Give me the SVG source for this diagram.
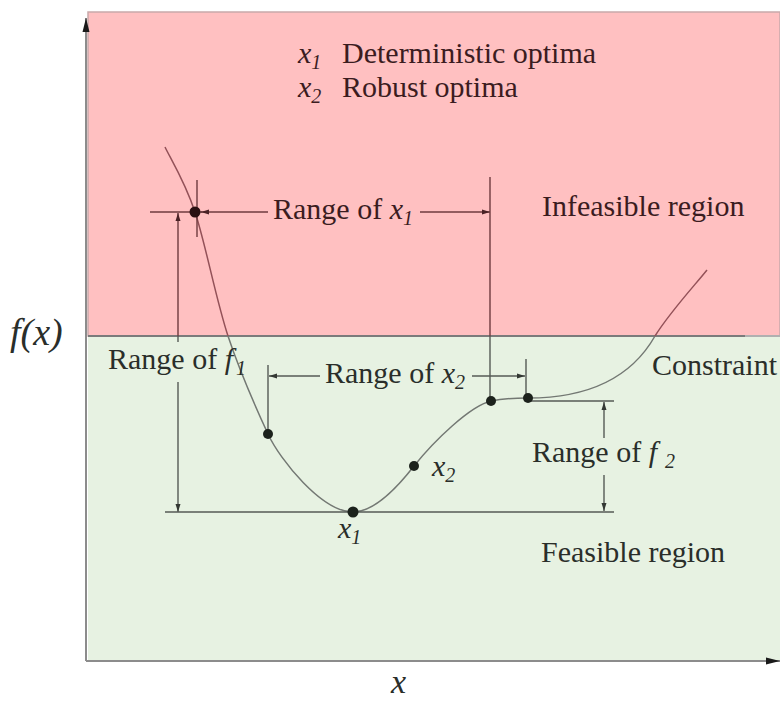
<svg xmlns="http://www.w3.org/2000/svg" width="780" height="702" viewBox="0 0 780 702">
<defs>
<style>
text{font-family:'Liberation Serif','Times New Roman',Times,Tinos,'Noto Serif','DejaVu Serif',FreeSerif,serif;font-size:30px}
.tp{fill:#3b1c1f}
.tg{fill:#2a2e2a}
.it{font-style:italic}
.sub{font-size:20px;font-style:italic}
.ln{fill:none;stroke:url(#lg);stroke-width:1.4}
.cv{fill:none;stroke:url(#cg);stroke-width:1.5}
.dotp{fill:#2a1012}
.dotg{fill:#1c221c}
</style>
<linearGradient id="lg" gradientUnits="userSpaceOnUse" x1="0" y1="0" x2="0" y2="702">
<stop offset="0.4786" stop-color="#6e3a3e"/><stop offset="0.4786" stop-color="#555a55"/>
</linearGradient>
<linearGradient id="cg" gradientUnits="userSpaceOnUse" x1="0" y1="0" x2="0" y2="702">
<stop offset="0.4786" stop-color="#935158"/><stop offset="0.4786" stop-color="#737873"/>
</linearGradient>
<marker id="ap" markerUnits="userSpaceOnUse" markerWidth="10" markerHeight="8" refX="8" refY="3" orient="auto">
<path d="M0,0.5 L8,3 L0,5.5 z" fill="#4a2226"/>
</marker>
<marker id="ag" markerUnits="userSpaceOnUse" markerWidth="10" markerHeight="8" refX="8" refY="3" orient="auto">
<path d="M0,0.5 L8,3 L0,5.5 z" fill="#333833"/>
</marker>
<marker id="ax" markerUnits="userSpaceOnUse" markerWidth="16" markerHeight="10" refX="14" refY="4" orient="auto">
<path d="M0,0.5 L14,4 L0,7.5 z" fill="#1a1a1a"/>
</marker>
</defs>
<rect width="780" height="702" fill="#ffffff"/>
<g id="infeasible-region">
<rect x="88" y="12" width="692" height="324" fill="#ffc0c1" stroke="#c9a9aa" stroke-width="1.5"/>
</g>
<g id="feasible-region">
<rect x="88" y="336" width="692" height="325" fill="#e7f2e2"/>
</g>
<g id="constraint-line">
<line x1="88" y1="336" x2="745" y2="336" stroke="#7b7b7b" stroke-width="2"/>
<line x1="745" y1="336" x2="780" y2="336" stroke="#b0b0b0" stroke-width="2"/>
</g>
<g id="axes">
<line x1="86" y1="661" x2="86" y2="18" stroke="#8c8c8c" stroke-width="2" marker-end="url(#ax)"/>
<line x1="86" y1="661" x2="780" y2="661" stroke="#8c8c8c" stroke-width="2" marker-end="url(#ax)"/>
</g>
<g id="curve">
<path class="cv" d="M165,147 C170,157.8 184.5,180.5 195,212 C205.5,243.5 215.8,299 228,336 C240.2,373 256,408 268,434 C280,460 322,512 353,512 C375,512 400,484 414,466 C434,441 470,406 491,401 C503,398.5 516,398 528,398 C585,398 630,380 655,336 C670,312 695,285 707,270"/>
</g>
<g id="connectors">
<line class="ln" x1="150" y1="212" x2="202" y2="212"/>
<line class="ln" x1="268" y1="212" x2="201" y2="212" marker-end="url(#ap)"/>
<line class="ln" x1="197" y1="180" x2="197" y2="237"/>
<line class="ln" x1="420" y1="212" x2="490" y2="212" marker-end="url(#ap)"/>
<line class="ln" x1="490" y1="177" x2="490" y2="401"/>
<line class="ln" x1="178" y1="342" x2="178" y2="213" marker-end="url(#ap)"/>
<line class="ln" x1="178" y1="382" x2="178" y2="512" marker-end="url(#ag)"/>
<line class="ln" x1="268" y1="365" x2="268" y2="434"/>
<line class="ln" x1="320" y1="376" x2="269" y2="376" marker-end="url(#ag)"/>
<line class="ln" x1="472" y1="376" x2="525" y2="376" marker-end="url(#ag)"/>
<line class="ln" x1="526" y1="359" x2="526" y2="398"/>
<line class="ln" x1="530" y1="401" x2="614" y2="401"/>
<line class="ln" x1="604" y1="438" x2="604" y2="402" marker-end="url(#ag)"/>
<line class="ln" x1="604" y1="475" x2="604" y2="511" marker-end="url(#ag)"/>
<line class="ln" x1="165" y1="512" x2="614" y2="512"/>
</g>
<g id="points">
<circle class="dotp" cx="195" cy="212" r="5.5"/>
<circle class="dotg" cx="268" cy="434" r="5"/>
<circle class="dotg" cx="353" cy="512" r="5.5"/>
<circle class="dotg" cx="414" cy="466" r="5"/>
<circle class="dotg" cx="491" cy="401" r="5"/>
<circle class="dotg" cx="528" cy="398" r="5"/>
</g>
<g id="legend">
<text class="tp" x="298" y="63"><tspan class="it">x</tspan><tspan class="sub" dy="6">1</tspan><tspan x="342" y="63">Deterministic optima</tspan></text>
<text class="tp" x="298" y="97"><tspan class="it">x</tspan><tspan class="sub" dy="6">2</tspan><tspan x="342" y="97">Robust optima</tspan></text>
</g>
<g id="labels">
<text class="tp" x="273" y="219">Range of <tspan class="it">x</tspan><tspan class="sub" dy="6">1</tspan></text>
<text class="tp" x="542" y="216">Infeasible region</text>
<text class="tg" x="108" y="369">Range of <tspan class="it">f</tspan><tspan class="sub" dx="3" dy="6">1</tspan></text>
<text class="tg" x="325" y="383">Range of <tspan class="it">x</tspan><tspan class="sub" dy="6">2</tspan></text>
<text class="tg" x="652" y="375">Constraint</text>
<text class="tg" x="532" y="462">Range of <tspan class="it">f</tspan><tspan class="sub" dx="8" dy="6">2</tspan></text>
<text class="tg" x="432" y="476"><tspan class="it">x</tspan><tspan class="sub" dy="6">2</tspan></text>
<text class="tg" x="338" y="538"><tspan class="it">x</tspan><tspan class="sub" dy="6">1</tspan></text>
<text class="tg" x="541" y="562">Feasible region</text>
<text class="tg it" x="10" y="345" style="font-size:38px">f(x)</text>
<text class="tg it" x="391" y="693" style="font-size:34px">x</text>
</g>
</svg>
